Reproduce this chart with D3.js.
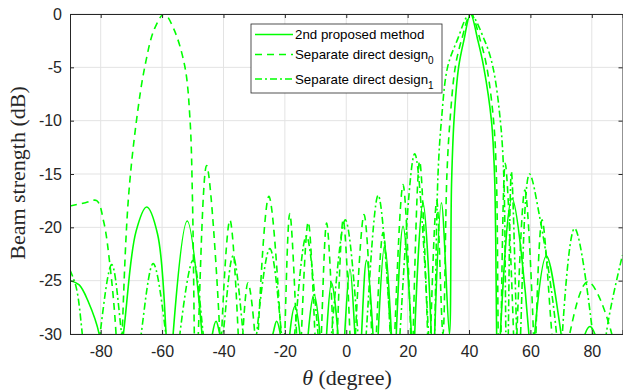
<!DOCTYPE html>
<html>
<head>
<meta charset="utf-8">
<script src="https://cdn.jsdelivr.net/npm/d3@7"></script>
<style>
  body { margin: 0; background: #fff; }
  svg { display: block; }
</style>
</head>
<body>
<div id="chart"></div>
<script>
const width = 623;
const height = 390;

const xTicks = [-80, -60, -40, -20, 0, 20, 40, 60, 80];
const yTicks = [0, -5, -10, -15, -20, -25, -30];

const seriesNames = ["2nd proposed method", "Separate direct design", "Separate direct design"];
const seriesSubs = ["", "0", "1"];

// [theta (deg), beam strength (dB)]; -40 marks a null below the axis
const proposed = [
  [-90, -25.0], [-87, -25.4], [-84, -27.0], [-80.5, -30], [-77, -40],
  [-72.6, -30], [-68.5, -20.4], [-65, -18.1], [-61.5, -20.6], [-58.7, -30], [-57.5, -40],
  [-56.4, -30], [-51.8, -19.4], [-47, -30], [-45.5, -40],
  [-43.6, -30], [-42.4, -28.8], [-41.2, -30], [-33, -40],
  [-23.9, -30], [-22.7, -28.8], [-21.5, -30], [-19.3, -40],
  [-18.4, -30], [-16.7, -27.4], [-15.1, -30], [-13.4, -40],
  [-12.4, -30], [-10.5, -26.3], [-8.6, -30], [-7.5, -40],
  [-6.4, -30], [-4.8, -25.2], [-2.7, -30], [-1.6, -40],
  [-0.5, -30], [1.2, -23.9], [2.8, -30], [3.9, -40],
  [5.0, -30], [6.6, -23.1], [8.7, -30], [9.6, -40],
  [10.4, -30], [12.5, -21.7], [14.7, -30], [15.5, -40],
  [16.3, -30], [18.5, -19.9], [21.2, -30], [21.8, -40],
  [22.3, -30], [25.0, -17.7], [27.7, -30], [28.2, -40],
  [28.8, -30], [31.0, -17.7], [33.6, -30],
  [34.3, -16], [35.1, -10], [36.6, -5], [38.3, -2.5], [40.5, 0], [42.9, -2.5], [44.8, -5],
  [47.3, -10], [48.3, -15], [49.0, -30], [49.5, -40],
  [50.2, -30], [54.0, -17.3], [59.5, -30], [60.5, -40],
  [61.4, -30], [65.2, -22.7], [70.0, -30], [74, -40],
  [77.8, -30], [79.4, -29.3], [81.0, -30], [86, -40], [90, -40]
];

const design0 = [
  [-90, -18.0], [-85, -17.7], [-81.3, -17.5], [-79, -19.5], [-77, -23.5], [-75, -30], [-74, -40],
  [-73, -30], [-71, -17.4], [-68.3, -9.9], [-65.6, -4.9], [-62.5, -1.4], [-59.3, 0], [-56.2, -1.4],
  [-52.6, -4.9], [-50.9, -9.9], [-50.1, -17.4], [-49.5, -30], [-49, -40],
  [-48.2, -30], [-45.5, -14.2], [-41.2, -30], [-40.9, -40],
  [-40.6, -30], [-37.9, -19.3], [-35.2, -30], [-34.5, -40],
  [-33.7, -30], [-32.0, -25.2], [-29.8, -30], [-29.2, -40],
  [-28.7, -30], [-25.2, -17.1], [-21.3, -30], [-20.6, -40],
  [-20.0, -30], [-18.4, -18.7], [-16.2, -30], [-15.4, -40],
  [-14.6, -30], [-12.4, -19.5], [-10.2, -30], [-9.1, -40],
  [-8.1, -30], [-6.4, -19.6], [-4.3, -30], [-3.6, -40],
  [-2.9, -30], [-1.0, -19.3], [1.2, -30], [2.0, -40],
  [3.0, -30], [5.8, -18.8], [8.3, -30], [9.0, -40],
  [9.8, -30], [12.0, -20.5], [14.3, -30], [15.0, -40],
  [15.8, -30], [18.5, -16.0], [21.0, -30], [21.4, -40],
  [21.8, -30], [23.9, -13.8], [26.5, -30], [27.0, -40],
  [27.5, -30], [29.5, -17.5], [31.5, -30],
  [32.8, -15], [33.8, -10], [35.5, -5], [37.5, -2.5], [40.6, 0], [43.7, -2.5], [45.8, -5],
  [48.0, -10], [48.9, -15], [49.5, -30], [50.0, -40],
  [50.4, -30], [51.8, -14.0], [54.5, -30], [55.0, -40],
  [55.6, -30], [58.2, -16.5], [61.0, -30], [61.5, -40],
  [61.8, -30], [63.8, -19.3], [67.0, -30], [70, -40],
  [72.8, -30], [78.7, -25.1], [86.5, -30], [89, -40], [90, -40]
];

const design1 = [
  [-90, -24.0], [-88, -25.6], [-86, -30], [-83, -40],
  [-80.2, -30], [-76.4, -23.5], [-73.2, -30], [-70, -40],
  [-66.8, -30], [-62.9, -23.4], [-58.8, -30], [-56.5, -40],
  [-54.2, -30], [-49.9, -23.1], [-46.6, -30], [-43.5, -40],
  [-40.1, -30], [-36.9, -22.7], [-33.6, -30], [-31.5, -40],
  [-29.2, -30], [-24.9, -22.0], [-21.1, -30], [-19, -40],
  [-16.8, -30], [-13.0, -20.8], [-9.2, -30], [-7, -40],
  [-4.8, -30], [-0.3, -19.3], [3.8, -30], [5, -40],
  [6.5, -30], [10.4, -17.0], [14.5, -30], [16, -40],
  [17.5, -30], [22.3, -13.1], [26.8, -30], [27.8, -40],
  [28.8, -30], [29.9, -15], [31.0, -10], [33.0, -5], [36.1, -2.5], [40.3, 0], [45.1, -2.5],
  [47.8, -5], [50.2, -10], [51.3, -15], [52.0, -30], [52.5, -40],
  [52.8, -30], [53.8, -14.8], [55.5, -30], [56.2, -40],
  [56.8, -30], [59.7, -15.0], [63, -19], [68.5, -30], [70, -40],
  [70.4, -30], [74.4, -20.1], [80.3, -30], [82.5, -40],
  [84.7, -30], [90, -22.6]
];

const seriesData = [proposed, design0, design1];
const dashes = [null, "7,5", "7,3,2,3"];

const margin = { left: 70, right: 622.5, top: 14, bottom: 334 };

const x = d3.scaleLinear().domain([-90, 90]).range([margin.left, margin.right]);
const y = d3.scaleLinear().domain([-30, 0]).range([margin.bottom, margin.top]);

const svg = d3.select("#chart").append("svg")
  .attr("width", width)
  .attr("height", height);

svg.append("defs").append("clipPath").attr("id", "plot-clip")
  .append("rect")
  .attr("x", margin.left)
  .attr("y", margin.top)
  .attr("width", margin.right - margin.left)
  .attr("height", margin.bottom - margin.top);

// grid
svg.append("g").selectAll("line").data(xTicks).join("line")
  .attr("x1", (d) => x(d)).attr("x2", (d) => x(d))
  .attr("y1", margin.top).attr("y2", margin.bottom)
  .attr("stroke", "#e3e3e3").attr("stroke-width", 1);
svg.append("g").selectAll("line").data(yTicks).join("line")
  .attr("x1", margin.left).attr("x2", margin.right)
  .attr("y1", (d) => y(d)).attr("y2", (d) => y(d))
  .attr("stroke", "#e3e3e3").attr("stroke-width", 1);

// curves
const line = d3.line()
  .x((d) => x(d[0]))
  .y((d) => y(d[1]))
  .curve(d3.curveCatmullRom.alpha(0.5));

svg.append("g").attr("clip-path", "url(#plot-clip)")
  .selectAll("path").data(seriesData).join("path")
  .attr("d", line)
  .attr("fill", "none")
  .attr("stroke", "#00ff00")
  .attr("stroke-width", 1.6)
  .attr("stroke-dasharray", (d, i) => dashes[i]);

// axes (MATLAB style box, inward ticks)
const axisColor = "#262626";
const xAxis = svg.append("g").attr("transform", `translate(0,${margin.bottom})`)
  .call(d3.axisBottom(x).tickValues(xTicks).tickSize(-4).tickPadding(12).tickFormat(d3.format("d")));
const xAxisTop = svg.append("g").attr("transform", `translate(0,${margin.top})`)
  .call(d3.axisTop(x).tickValues(xTicks).tickSize(-4).tickFormat(""));
const yAxis = svg.append("g").attr("transform", `translate(${margin.left},0)`)
  .call(d3.axisLeft(y).tickValues(yTicks).tickSize(-4).tickPadding(8).tickFormat(d3.format("d")));
const yAxisRight = svg.append("g").attr("transform", `translate(${margin.right},0)`)
  .call(d3.axisRight(y).tickValues(yTicks).tickSize(-4).tickFormat(""));

[xAxis, xAxisTop, yAxis, yAxisRight].forEach((g) => {
  g.selectAll(".domain").attr("stroke", axisColor).attr("stroke-width", 1);
  g.selectAll(".tick line").attr("stroke", axisColor).attr("stroke-width", 1);
  g.selectAll("text")
    .attr("fill", axisColor)
    .attr("font-family", "Liberation Sans, Arial, sans-serif")
    .attr("font-size", 16);
});
xAxis.selectAll("text").text((d) => d3.format("d")(d).replace("−", "-"));
yAxis.selectAll("text").text((d) => d3.format("d")(d).replace("−", "-"));

// axis titles
const xTitle = svg.append("text")
  .attr("x", 347)
  .attr("y", 385)
  .attr("text-anchor", "middle")
  .attr("font-family", "Liberation Serif, Times New Roman, serif")
  .attr("font-size", 22)
  .attr("fill", axisColor);
xTitle.append("tspan").attr("font-style", "italic").text("θ");
xTitle.append("tspan").text(" (degree)");

svg.append("text")
  .attr("transform", `translate(25,173) rotate(-90)`)
  .attr("text-anchor", "middle")
  .attr("font-family", "Liberation Serif, Times New Roman, serif")
  .attr("font-size", 22)
  .attr("fill", axisColor)
  .text("Beam strength (dB)");

// legend
const legend = svg.append("g");
legend.append("rect")
  .attr("x", 251).attr("y", 24)
  .attr("width", 191).attr("height", 69)
  .attr("fill", "#fff")
  .attr("stroke", axisColor)
  .attr("stroke-width", 0.8);

const legendRows = [34.5, 54.5, 79];
seriesNames.forEach((name, i) => {
  const row = legend.append("g");
  row.append("line")
    .attr("x1", 255).attr("x2", 293)
    .attr("y1", legendRows[i]).attr("y2", legendRows[i])
    .attr("stroke", "#00ff00")
    .attr("stroke-width", 1.6)
    .attr("stroke-dasharray", dashes[i]);
  const label = row.append("text")
    .attr("x", 295)
    .attr("y", legendRows[i] + 4.5)
    .attr("font-family", "Liberation Sans, Arial, sans-serif")
    .attr("font-size", 13.3)
    .attr("fill", "#000");
  label.append("tspan").text(name);
  if (seriesSubs[i]) {
    label.append("tspan")
      .attr("dy", 5)
      .attr("font-size", 10)
      .text(seriesSubs[i]);
  }
});
</script>
</body>
</html>
